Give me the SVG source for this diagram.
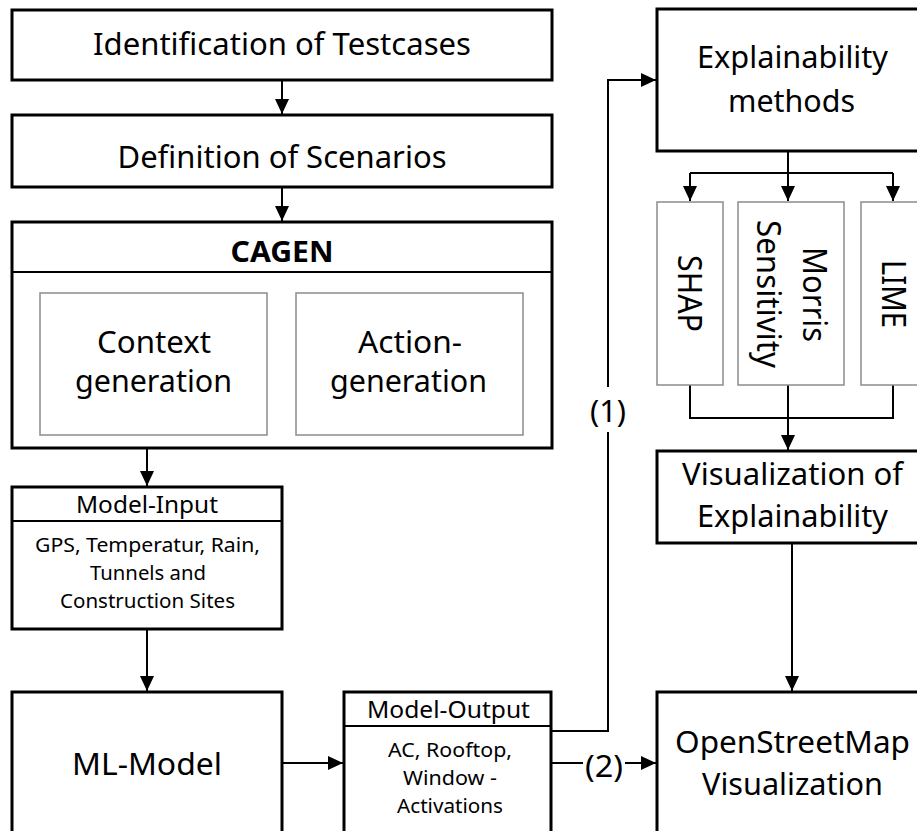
<svg xmlns="http://www.w3.org/2000/svg" width="917" height="831" viewBox="0 0 917 831">
<style>
.box{fill:#fff;stroke:#000;stroke-width:3}
.inner{fill:#fff;stroke:#8c8c8c;stroke-width:1.5}
.div{stroke:#000;stroke-width:2}
.con{fill:none;stroke:#000;stroke-width:2}
text{font-family:"Noto Sans","Open Sans","DejaVu Sans",sans-serif;fill:#000;text-anchor:middle}
.big{font-size:31px}
.rot{font-size:33px}
.mid{font-size:23px}
.small{font-size:19px}
.bold{font-size:28px;font-weight:bold}
</style>
<defs>
<marker id="arr" markerUnits="userSpaceOnUse" markerWidth="16" markerHeight="15" refX="15" refY="7" orient="auto">
<path d="M0,0 L15,7 L0,14 z" fill="#000"/>
</marker>
</defs>
<rect width="917" height="831" fill="#fff"/>

<g id="connectors">
<path class="con" d="M282,80 V114" marker-end="url(#arr)"/>
<path class="con" d="M282,187 V221" marker-end="url(#arr)"/>
<path class="con" d="M147,448 V486" marker-end="url(#arr)"/>
<path class="con" d="M147,629 V691" marker-end="url(#arr)"/>
<path class="con" d="M282,763 H343" marker-end="url(#arr)"/>
<path class="con" d="M551,731 H608 V432 M608,387 V80 H656" marker-end="url(#arr)"/>
<path class="con" d="M551,763 H583"/>
<path class="con" d="M625,763 H656" marker-end="url(#arr)"/>
<path class="con" d="M788,151 V173"/>
<path class="con" d="M690,173 H893"/>
<path class="con" d="M690,173 V201" marker-end="url(#arr)"/>
<path class="con" d="M788,173 V201" marker-end="url(#arr)"/>
<path class="con" d="M893,173 V201" marker-end="url(#arr)"/>
<path class="con" d="M690,385 V418 H893 V385"/>
<path class="con" d="M788,385 V450" marker-end="url(#arr)"/>
<path class="con" d="M792,543 V691" marker-end="url(#arr)"/>
<text x="608" y="422" font-size="31" textLength="36" lengthAdjust="spacingAndGlyphs">(1)</text>
<text x="604" y="777" font-size="31" textLength="38" lengthAdjust="spacingAndGlyphs">(2)</text>
</g>

<g id="identification">
<rect class="box" x="12" y="10" width="540" height="70"/>
<text class="big" x="282" y="55" textLength="378" lengthAdjust="spacingAndGlyphs">Identification of Testcases</text>
</g>

<g id="definition">
<rect class="box" x="12" y="115" width="540" height="72"/>
<text class="big" x="282" y="168" textLength="329" lengthAdjust="spacingAndGlyphs">Definition of Scenarios</text>
</g>

<g id="cagen">
<rect class="box" x="12" y="222" width="540" height="226"/>
<line class="div" x1="12" y1="272" x2="552" y2="272"/>
<text class="bold" x="282" y="262" textLength="103" lengthAdjust="spacingAndGlyphs">CAGEN</text>
</g>

<g id="context-generation">
<rect class="inner" x="40" y="293" width="227" height="142"/>
<text class="big" x="154" y="353" font-size="31" textLength="114" lengthAdjust="spacingAndGlyphs">Context</text>
<text class="big" x="153.5" y="392" font-size="31" textLength="157" lengthAdjust="spacingAndGlyphs">generation</text>
</g>

<g id="action-generation">
<rect class="inner" x="296" y="293" width="227" height="142"/>
<text class="big" x="410" y="353" font-size="31" textLength="104" lengthAdjust="spacingAndGlyphs">Action-</text>
<text class="big" x="408.5" y="392" font-size="31" textLength="157" lengthAdjust="spacingAndGlyphs">generation</text>
</g>

<g id="model-input">
<rect class="box" x="12" y="487" width="270" height="142"/>
<line class="div" x1="12" y1="521" x2="282" y2="521"/>
<text class="mid" x="147" y="513" textLength="142" lengthAdjust="spacingAndGlyphs">Model-Input</text>
<text class="small" x="147.5" y="552" textLength="225" lengthAdjust="spacingAndGlyphs">GPS, Temperatur, Rain,</text>
<text class="small" x="148" y="580" textLength="116" lengthAdjust="spacingAndGlyphs">Tunnels and</text>
<text class="small" x="147.5" y="608" textLength="175" lengthAdjust="spacingAndGlyphs">Construction Sites</text>
</g>

<g id="ml-model">
<rect class="box" x="12" y="692" width="270" height="160"/>
<text class="big" x="147" y="775" font-size="33" textLength="150" lengthAdjust="spacingAndGlyphs">ML-Model</text>
</g>

<g id="model-output">
<rect class="box" x="344" y="692" width="207" height="160"/>
<line class="div" x1="344" y1="726" x2="551" y2="726"/>
<text class="mid" x="448.5" y="718" textLength="163" lengthAdjust="spacingAndGlyphs">Model-Output</text>
<text class="small" x="450" y="757" textLength="124" lengthAdjust="spacingAndGlyphs">AC, Rooftop,</text>
<text class="small" x="450" y="785" textLength="94" lengthAdjust="spacingAndGlyphs">Window -</text>
<text class="small" x="450" y="813" textLength="106" lengthAdjust="spacingAndGlyphs">Activations</text>
</g>

<g id="explainability-methods">
<rect class="box" x="657" y="9" width="275" height="142"/>
<text class="big" x="792.5" y="68" textLength="191" lengthAdjust="spacingAndGlyphs">Explainability</text>
<text class="big" x="791.5" y="112" textLength="127" lengthAdjust="spacingAndGlyphs">methods</text>
</g>

<g id="shap">
<rect class="inner" x="657" y="202" width="66" height="183"/>
<text class="rot" transform="translate(690,293.5) rotate(90)" x="0" y="12" textLength="77" lengthAdjust="spacingAndGlyphs">SHAP</text>
</g>

<g id="morris">
<rect class="inner" x="738" y="202" width="106" height="183"/>
<text class="rot" transform="translate(815,294.5) rotate(90)" x="0" y="12" textLength="95" lengthAdjust="spacingAndGlyphs">Morris</text>
<text class="rot" transform="translate(769,294) rotate(90)" x="0" y="12" textLength="148" lengthAdjust="spacingAndGlyphs">Sensitivity</text>
</g>

<g id="lime">
<rect class="inner" x="861" y="202" width="66" height="183"/>
<text class="rot" transform="translate(894,294) rotate(90)" x="0" y="12" textLength="68" lengthAdjust="spacingAndGlyphs">LIME</text>
</g>

<g id="visualization">
<rect class="box" x="657" y="451" width="275" height="92"/>
<text class="big" x="792.5" y="485" textLength="221" lengthAdjust="spacingAndGlyphs">Visualization of</text>
<text class="big" x="792.5" y="527" textLength="191" lengthAdjust="spacingAndGlyphs">Explainability</text>
</g>

<g id="openstreetmap">
<rect class="box" x="657" y="692" width="275" height="160"/>
<text class="big" x="792.5" y="753" textLength="235" lengthAdjust="spacingAndGlyphs">OpenStreetMap</text>
<text class="big" x="792.5" y="795" textLength="181" lengthAdjust="spacingAndGlyphs">Visualization</text>
</g>
</svg>
